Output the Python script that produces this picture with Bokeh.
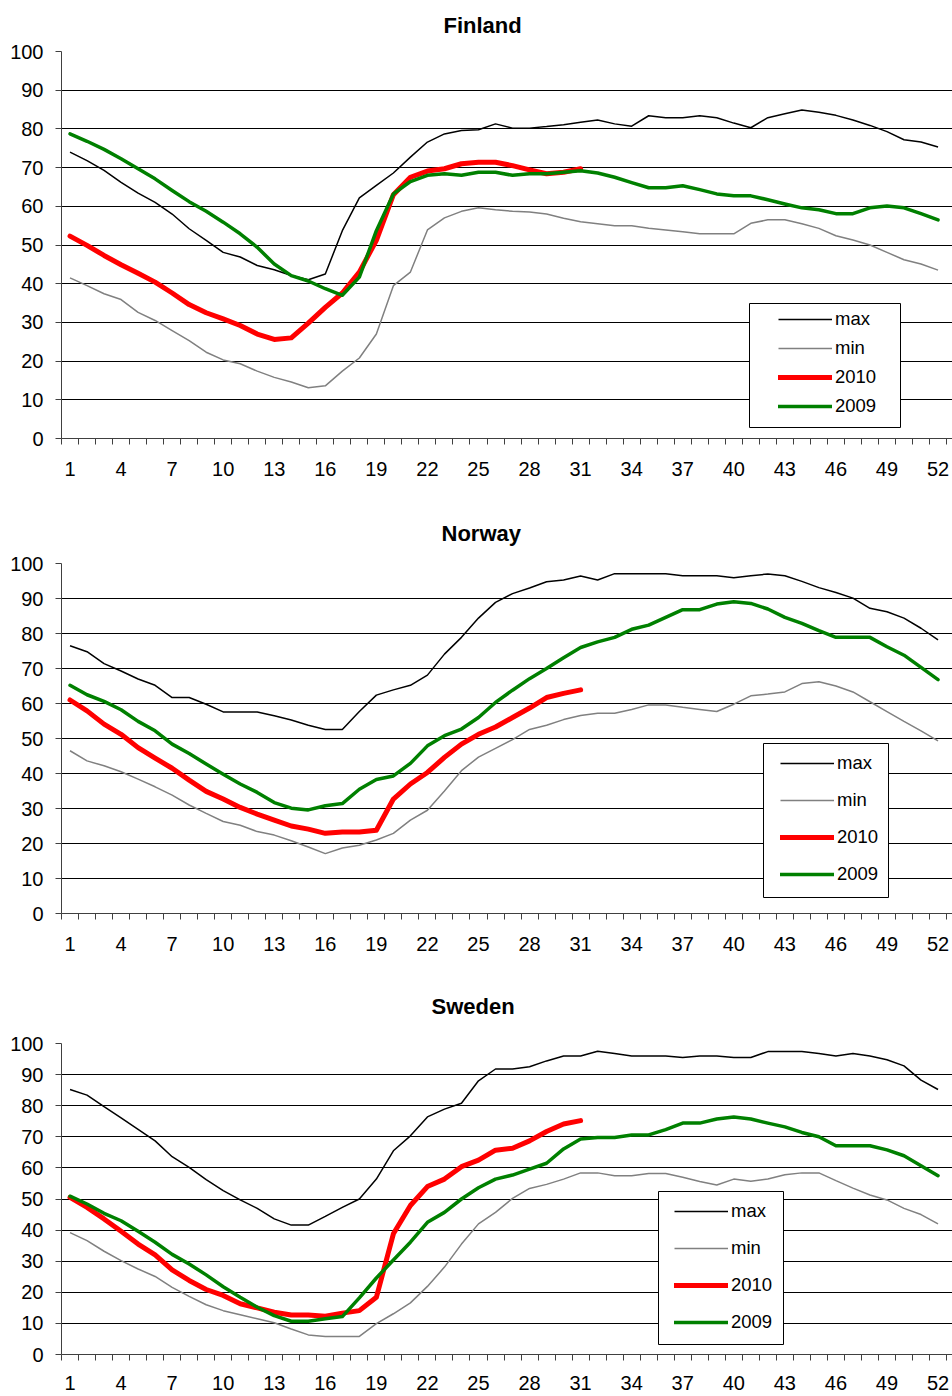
from bokeh.plotting import figure
from bokeh.models import Range1d, FixedTicker, Legend, LegendItem, BoxAnnotation, ColumnDataSource
from bokeh.layouts import column
from bokeh.embed import file_html
from bokeh.resources import INLINE

weeks = list(range(1, 53))
weeks_2010 = list(range(1, 32))
x_tick_weeks = list(range(1, 53, 3))
x_minor = [w + 0.5 for w in range(0, 53)]
y_ticks = list(range(0, 101, 10))
series_names = ["max", "min", "2010", "2009"]

finland_max = [74.0, 71.8, 69.3, 66.2, 63.4, 61.0, 58.0, 54.2, 51.2, 48.1,
               46.9, 44.7, 43.6, 42.1, 41.0, 42.5, 53.7, 62.2, 65.4, 68.6,
               72.7, 76.6, 78.7, 79.6, 79.8, 81.3, 80.2, 80.2, 80.6, 81.1,
               81.7, 82.3, 81.3, 80.7, 83.4, 82.9, 82.9, 83.4, 82.9, 81.5,
               80.3, 82.9, 83.9, 84.9, 84.3, 83.5, 82.3, 80.9, 79.3, 77.2,
               76.6, 75.3]
finland_min = [41.5, 39.5, 37.4, 35.9, 32.6, 30.5, 27.9, 25.3, 22.3, 20.3,
               19.3, 17.4, 15.8, 14.6, 13.1, 13.6, 17.4, 20.8, 27.0, 39.5,
               43.0, 53.9, 57.0, 58.7, 59.6, 59.1, 58.7, 58.5, 58.0, 56.9,
               56.0, 55.5, 55.0, 55.0, 54.3, 53.9, 53.4, 52.9, 52.9, 52.9,
               55.6, 56.5, 56.5, 55.5, 54.3, 52.4, 51.3, 50.0, 48.1, 46.2,
               45.1, 43.5]
finland_2009 = [78.7, 76.8, 74.7, 72.3, 69.7, 67.1, 64.1, 61.2, 58.7, 55.9,
                52.9, 49.4, 45.1, 42.1, 40.7, 38.7, 37.0, 41.7, 53.7, 63.2,
                66.4, 68.0, 68.4, 68.0, 68.8, 68.8, 68.0, 68.4, 68.4, 68.8,
                69.2, 68.6, 67.5, 66.1, 64.8, 64.8, 65.3, 64.3, 63.2, 62.7,
                62.7, 61.7, 60.6, 59.6, 59.1, 58.1, 58.1, 59.6, 60.1, 59.6,
                58.1, 56.5]
finland_2010 = [52.3, 49.9, 47.3, 44.9, 42.7, 40.4, 37.6, 34.6, 32.5, 30.9,
                29.2, 27.0, 25.6, 26.0, 29.8, 33.9, 37.6, 43.0, 51.2, 63.0,
                67.5, 69.1, 69.7, 71.0, 71.4, 71.4, 70.5, 69.4, 68.4, 68.8,
                69.7]

norway_max = [76.5, 74.8, 71.4, 69.3, 67.0, 65.2, 61.7, 61.7, 59.8, 57.6,
              57.6, 57.6, 56.5, 55.3, 53.8, 52.6, 52.6, 57.7, 62.4, 63.9,
              65.2, 68.1, 74.1, 78.9, 84.4, 88.9, 91.4, 93.0, 94.8, 95.3,
              96.4, 95.3, 97.1, 97.1, 97.1, 97.1, 96.5, 96.5, 96.5, 95.9,
              96.5, 97.0, 96.5, 94.9, 93.1, 91.7, 90.1, 87.2, 86.2, 84.4,
              81.5, 78.2]
norway_min = [46.5, 43.6, 42.2, 40.5, 38.4, 36.2, 33.8, 31.0, 28.6, 26.3,
              25.2, 23.4, 22.4, 20.8, 19.0, 17.1, 18.7, 19.5, 21.0, 22.9,
              26.7, 29.5, 35.0, 40.8, 44.7, 47.2, 49.7, 52.6, 53.8, 55.4,
              56.6, 57.2, 57.2, 58.3, 59.6, 59.6, 58.9, 58.3, 57.7, 59.8,
              62.2, 62.7, 63.3, 65.7, 66.2, 65.0, 63.3, 60.5, 57.7, 54.9,
              52.2, 49.3]
norway_2009 = [65.2, 62.5, 60.6, 58.2, 54.9, 52.2, 48.4, 45.7, 42.7, 39.8,
               37.0, 34.6, 31.7, 30.1, 29.6, 30.8, 31.4, 35.5, 38.3, 39.3,
               42.9, 47.9, 50.8, 52.7, 56.0, 60.3, 63.8, 67.1, 70.0, 73.1,
               76.0, 77.6, 78.9, 81.2, 82.4, 84.6, 86.8, 86.8, 88.4, 89.1,
               88.6, 87.0, 84.6, 82.9, 80.8, 78.9, 78.9, 78.9, 76.2, 73.8,
               70.3, 66.8]
norway_2010 = [61.0, 57.9, 54.1, 51.2, 47.4, 44.4, 41.5, 38.1, 34.9, 32.7,
               30.3, 28.4, 26.7, 25.0, 24.1, 22.9, 23.3, 23.3, 23.8, 32.7,
               37.0, 40.3, 44.6, 48.4, 51.2, 53.3, 56.0, 58.7, 61.7, 62.9,
               63.9]

sweden_max = [85.2, 83.4, 79.7, 76.1, 72.4, 68.7, 63.6, 60.2, 56.2, 52.7,
              49.7, 47.0, 43.6, 41.6, 41.6, 44.4, 47.3, 50.0, 56.4, 65.5,
              70.3, 76.4, 78.9, 80.8, 88.0, 91.8, 91.8, 92.5, 94.4, 96.0,
              96.0, 97.5, 96.8, 96.0, 96.0, 96.0, 95.5, 96.0, 96.0, 95.5,
              95.5, 97.4, 97.4, 97.4, 96.8, 96.0, 96.8, 96.0, 94.8, 92.8,
              88.2, 85.2]
sweden_min = [39.2, 36.6, 33.2, 30.2, 27.5, 25.1, 21.6, 18.7, 16.0, 14.1,
              12.8, 11.5, 10.2, 8.2, 6.3, 5.8, 5.8, 5.8, 9.9, 13.1,
              16.6, 21.9, 28.1, 35.5, 42.0, 45.7, 50.2, 53.4, 54.7, 56.4,
              58.4, 58.4, 57.5, 57.5, 58.2, 58.2, 57.0, 55.6, 54.5, 56.4,
              55.7, 56.4, 57.8, 58.4, 58.4, 55.9, 53.5, 51.3, 49.7, 47.0,
              45.0, 42.0]
sweden_2009 = [50.9, 48.4, 45.4, 43.0, 39.6, 36.1, 32.2, 29.1, 25.6, 21.8,
               18.4, 15.2, 12.5, 10.7, 10.7, 11.5, 12.2, 18.2, 24.6, 30.4,
               36.1, 42.5, 45.7, 50.0, 53.6, 56.4, 57.7, 59.6, 61.5, 66.1,
               69.3, 69.8, 69.8, 70.6, 70.6, 72.3, 74.4, 74.4, 75.7, 76.4,
               75.7, 74.4, 73.2, 71.4, 70.0, 67.1, 67.1, 67.1, 65.8, 63.9,
               60.7, 57.5]
sweden_2010 = [50.5, 47.3, 43.6, 39.6, 35.5, 32.0, 27.2, 23.8, 20.9, 19.0,
               16.3, 15.0, 13.6, 12.7, 12.7, 12.3, 13.3, 14.1, 18.4, 38.8,
               47.9, 54.0, 56.4, 60.4, 62.5, 65.7, 66.3, 68.7, 71.7, 74.1,
               75.2]

FONT = "Liberation Sans"
AXIS_COLOR = "#404040"


def make_panel(title, s_max, s_min, s_2010, s_2009, height, b_top, b_bottom,
               t_standoff, t_offset, x_standoff, box, leg_loc, leg_spacing):
    p = figure(width=952, height=height, output_backend="svg", toolbar_location=None,
               x_range=Range1d(0.5, 52.85), y_range=Range1d(0, 100),
               min_border_left=61, min_border_right=0,
               min_border_top=b_top, min_border_bottom=b_bottom)
    p.background_fill_color = "white"
    p.border_fill_color = "white"
    p.outline_line_color = None

    p.title.text = title
    p.title.text_font = FONT
    p.title.text_font_size = "22px"
    p.title.text_font_style = "bold"
    p.title.text_color = "black"
    p.title.align = "left"
    p.title.vertical_align = "top"
    p.title.offset = t_offset
    p.title.standoff = t_standoff

    # axes
    p.xaxis.ticker = FixedTicker(ticks=x_tick_weeks, minor_ticks=x_minor)
    p.yaxis.ticker = FixedTicker(ticks=y_ticks)
    for ax in (p.xaxis, p.yaxis):
        ax.axis_line_color = AXIS_COLOR
        ax.axis_line_width = 1
        ax.major_tick_line_color = AXIS_COLOR
        ax.minor_tick_line_color = AXIS_COLOR
        ax.major_label_text_font = FONT
        ax.major_label_text_font_size = "20px"
        ax.major_label_text_color = "black"
        ax.major_tick_in = 0
        ax.minor_tick_in = 0
    p.xaxis.major_tick_out = 0
    p.xaxis.minor_tick_out = 6
    p.xaxis.major_label_standoff = x_standoff
    p.yaxis.major_tick_out = 6
    p.yaxis.minor_tick_line_color = None
    p.yaxis.major_label_standoff = 12

    p.xgrid.grid_line_color = None
    p.ygrid.ticker = FixedTicker(ticks=y_ticks)
    p.ygrid.grid_line_color = "black"
    p.ygrid.grid_line_width = 1

    src = ColumnDataSource(dict(week=weeks, vmax=s_max, vmin=s_min, v2009=s_2009))
    src10 = ColumnDataSource(dict(week=weeks_2010, v2010=s_2010))

    r_min = p.line("week", "vmin", source=src, line_color="#808080", line_width=1.5)
    r_max = p.line("week", "vmax", source=src, line_color="black", line_width=1.5)
    r_10 = p.line("week", "v2010", source=src10, line_color="#ff0000", line_width=5,
                  line_cap="round", line_join="round")
    r_09 = p.line("week", "v2009", source=src, line_color="#008000", line_width=3.5,
                  line_cap="round", line_join="round")

    l, r, b, t = box
    frame_box = BoxAnnotation(left=l, right=r, bottom=b, top=t,
                              left_units="screen", right_units="screen",
                              bottom_units="screen", top_units="screen",
                              fill_color="white", fill_alpha=1.0,
                              line_color="black", line_width=1, line_alpha=1.0)
    p.add_layout(frame_box)

    legend = Legend(items=[LegendItem(label=series_names[0], renderers=[r_max]),
                           LegendItem(label=series_names[1], renderers=[r_min]),
                           LegendItem(label=series_names[2], renderers=[r_10]),
                           LegendItem(label=series_names[3], renderers=[r_09])],
                    location=leg_loc, orientation="vertical",
                    glyph_width=54, glyph_height=24, spacing=leg_spacing,
                    padding=0, margin=0, label_standoff=3,
                    label_text_font=FONT, label_text_font_size="18.5px",
                    label_text_color="black",
                    border_line_color=None, background_fill_alpha=0)
    p.add_layout(legend, "center")
    return p


p1 = make_panel("Finland", finland_max, finland_min, finland_2010, finland_2009,
                height=504, b_top=51, b_bottom=66, t_standoff=23, t_offset=382,
                x_standoff=17, box=(688, 839, 11, 135), leg_loc=(717, 20), leg_spacing=5)
p2 = make_panel("Norway", norway_max, norway_min, norway_2010, norway_2009,
                height=464, b_top=59, b_bottom=55, t_standoff=32, t_offset=380,
                x_standoff=17, box=(702, 827, 16, 170), leg_loc=(719, 27), leg_spacing=13)
p3 = make_panel("Sweden", sweden_max, sweden_min, sweden_2010, sweden_2009,
                height=428, b_top=75, b_bottom=42, t_standoff=46, t_offset=370,
                x_standoff=15, box=(597, 722, 10, 163), leg_loc=(613, 20), leg_spacing=13)

layout = column(p1, p2, p3)
open("out.html", "w").write(file_html(layout, INLINE))
